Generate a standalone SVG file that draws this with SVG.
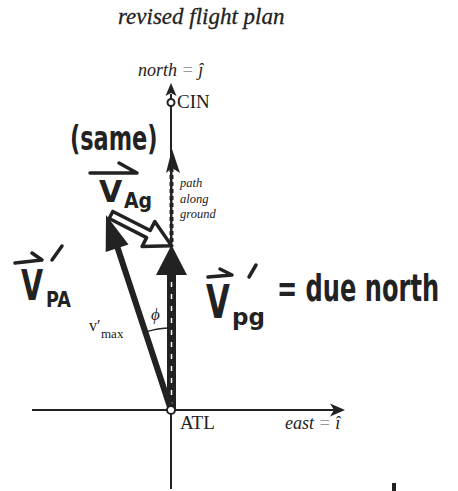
<svg xmlns="http://www.w3.org/2000/svg" width="458" height="491" viewBox="0 0 458 491">
<style>
.serif{font-family:"Liberation Serif","Times New Roman",serif;fill:#222}
.it{font-style:italic}
.hand{font-family:"DejaVu Sans","Liberation Sans",sans-serif;font-weight:bold;fill:#222}
.thin{stroke:#222;stroke-width:2;fill:none}
.hs{stroke:#222;stroke-width:3.5;fill:none;stroke-linecap:round;stroke-linejoin:round}
</style>
<rect width="458" height="491" fill="#fff"/>
<text class="serif it" x="118" y="24" font-size="23" stroke="#222" stroke-width="0.3">revised flight plan</text>
<g id="connectors">
  <line class="thin" x1="32" y1="410" x2="336" y2="410"/>
  <polygon points="345,410 330,403.5 334,410 330,416.5" fill="#222"/>
  <line class="thin" x1="171" y1="94" x2="171" y2="489"/>
  <polygon points="171,83 176.5,96 171,93 165.5,96" fill="#222"/>
  <line x1="171.5" y1="168" x2="171.5" y2="246" stroke="#222" stroke-width="4" stroke-dasharray="4 3"/>
  <line x1="171.5" y1="168" x2="171.5" y2="246" stroke="#222" stroke-width="2"/>
  <polygon points="172,149 180,173 172,168 166,173" fill="#222"/>
  <rect x="167" y="272" width="9" height="138" fill="#222"/>
  <polygon points="171.5,245 187,275 156,275" fill="#222"/>
  <line x1="171.5" y1="282" x2="171.5" y2="404" stroke="#fff" stroke-width="1.5" stroke-dasharray="5 7"/>
  <line x1="171" y1="410" x2="117" y2="246" stroke="#222" stroke-width="6"/>
  <polygon points="106,215 128.5,244.4 105.7,252" fill="#222"/>
  <path d="M145.1 332.2 A82 82 0 0 1 171 328" stroke="#222" stroke-width="1.3" fill="none"/>
  <polygon transform="translate(111,215) rotate(27)" points="0,-4 42,-4 42,-14 68,0 42,14 42,4 0,4" fill="#fff" stroke="#222" stroke-width="3.5" stroke-linejoin="round"/>
  <circle cx="171" cy="410" r="4" fill="#fff" stroke="#222" stroke-width="2"/>
  <circle cx="171" cy="102.5" r="3.5" fill="#fff" stroke="#222" stroke-width="2"/>
</g>
<g id="axis-labels">
  <text class="serif it" x="138" y="76" font-size="18">north <tspan fill="#999">=</tspan> ĵ</text>
  <text class="serif" x="177" y="108" font-size="19">CIN</text>
  <text class="serif" x="180" y="429" font-size="19">ATL</text>
  <text class="serif it" x="285" y="429" font-size="18">east <tspan fill="#999">=</tspan> î</text>
  <text class="serif it" x="180" y="187" font-size="12.5">path</text>
  <text class="serif it" x="180" y="203" font-size="12.5">along</text>
  <text class="serif it" x="180" y="218" font-size="12.5">ground</text>
  <text class="serif it" x="151" y="320" font-size="17">ϕ</text>
  <text class="serif" x="89" y="331" font-size="16">v′<tspan x="101" y="338" font-size="13">max</tspan></text>
</g>
<g id="label-same">
  <text class="hand" transform="translate(70,150) scale(0.66,1)" font-size="34">(same)</text>
</g>
<g id="label-VAg">
  <path class="hs" d="M90 173 L137 173 M119 163 L137 173"/>
  <text class="hand" x="99" y="202" font-size="30">V</text>
  <text class="hand" transform="translate(124,208) scale(0.9,1)" font-size="21">Ag</text>
</g>
<g id="label-VPA">
  <path class="hs" d="M15 263 L42 260 M32 253 L42 260"/>
  <text class="hand" transform="translate(21,300) scale(0.68,1)" font-size="42">V</text>
  <path class="hs" d="M52 260 L62 246"/>
  <text class="hand" transform="translate(46,307) scale(0.8,1)" font-size="22">PA</text>
</g>
<g id="label-VPG">
  <path class="hs" d="M208 277 L232 275 M220 269 L232 275"/>
  <text class="hand" transform="translate(206,318) scale(0.67,1)" font-size="46">V</text>
  <path class="hs" d="M249 277 L256 265"/>
  <text class="hand" x="232" y="325" font-size="23">pg</text>
  <text class="hand" transform="translate(277,301) scale(0.635,1)" font-size="38">= due north</text>
</g>
<rect x="392" y="483" width="4" height="8" fill="#222"/>
</svg>
